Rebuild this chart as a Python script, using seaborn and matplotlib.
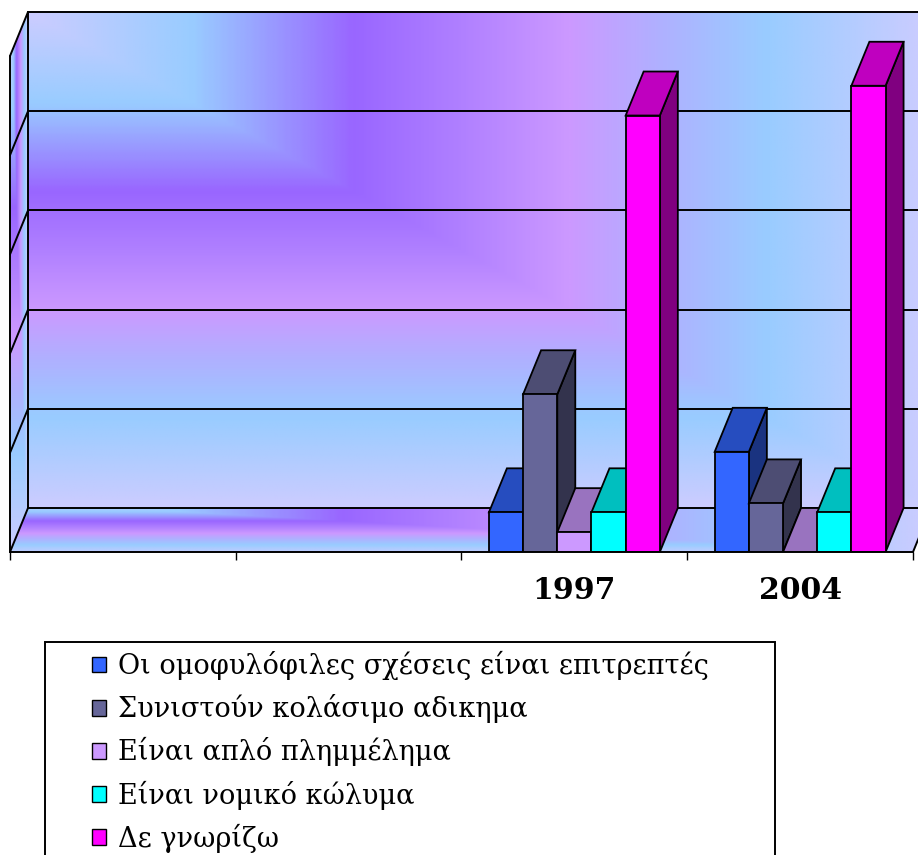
import numpy as np
import pandas as pd
import matplotlib
matplotlib.use("Agg")
import matplotlib.pyplot as plt
import seaborn as sns
from matplotlib.patches import Polygon, Rectangle, Patch
from matplotlib.colors import LinearSegmentedColormap

sns.set_theme(style="white")
plt.rcParams["font.family"] = ["DejaVu Serif"]
plt.rcParams["text.color"] = "black"
plt.rcParams["xtick.color"] = "black"

# ---------------------------------------------------------------------------
# data (gridlines every 10 units)
# ---------------------------------------------------------------------------
answers = [
    "Οι ομοφυλόφιλες σχέσεις είναι επιτρεπτές",
    "Συνιστούν κολάσιμο αδικημα",
    "Είναι απλό πλημμέλημα",
    "Είναι νομικό κώλυμα",
    "Δε γνωρίζω",
]
years = ["1997", "2004"]
slot_order = ["slot1", "slot2", "1997", "2004"]   # first two slots are empty
tick_labels = ["", "", "1997", "2004"]
values_1997 = [4.0, 15.9, 2.0, 4.0, 44.0]
values_2004 = [10.1, 4.9, 0.0, 4.0, 47.0]
gridlines = [0, 10, 20, 30, 40, 50]

colors = ["#3366ff", "#666699", "#cc99ff", "#00ffff", "#ff00ff"]

df = pd.DataFrame({
    "year": np.repeat(years, len(answers)),
    "answer": answers * len(years),
    "value": values_1997 + values_2004,
})

# wall fill: Excel-like "from corner" gradient
wall_cmap = LinearSegmentedColormap.from_list("wall", [
    (0.00, "#ccccff"), (0.18, "#99ccff"), (0.36, "#9966ff"), (0.48, "#b080ff"),
    (0.60, "#cc99ff"), (0.70, "#b0b0ff"), (0.82, "#99ccff"), (1.00, "#ccccff"),
])


def corner_field(nx, ny, v0=0.0, v1=1.0):
    u = np.linspace(0, 1, nx)
    v = np.linspace(v0, v1, ny)
    return np.maximum(u[None, :], v[:, None])


# ---------------------------------------------------------------------------
# figure / axes in pixel terms
# ---------------------------------------------------------------------------
W, H = 918, 855
X0, FLOOR = 10, 552          # px of the front floor corner
CAT_PX, UNIT_PX = 225.75, 9.92
DX, DY = 18 / CAT_PX, 44 / UNIT_PX   # depth offset in data units
LW = 1.4

fig = plt.figure(figsize=(W / 100, H / 100), dpi=100)
ax = fig.add_axes([X0 / W, (H - FLOOR) / H, (W - X0) / W, FLOOR / H])

sns.barplot(data=df, x="year", y="value", hue="answer", order=slot_order,
            hue_order=answers, palette=colors, width=0.757, saturation=1,
            edgecolor="black", linewidth=1.3, legend=False, ax=ax)
bars = sorted(ax.patches, key=lambda p: p.get_x())

# walls and floor
L, R = -0.5, 3.5
wall = ax.imshow(corner_field(400, 200), cmap=wall_cmap, vmin=0, vmax=1,
                 extent=(L + DX, R + DX, DY, 50 + DY), aspect="auto",
                 origin="upper", zorder=0, interpolation="bilinear")
floor = ax.imshow(corner_field(400, 60, 0.12, 0.95), cmap=wall_cmap, vmin=0, vmax=1,
                  extent=(L, R + DX, 0, DY), aspect="auto", origin="upper",
                  zorder=0, interpolation="bilinear")
floor.set_clip_path(Polygon([(L, 0), (L + DX, DY), (R + DX, DY), (R, 0)],
                            transform=ax.transData))
side_wall = ax.imshow(corner_field(30, 300), cmap=wall_cmap, vmin=0, vmax=1,
                      extent=(L, L + DX, 0, 50 + DY), aspect="auto", origin="upper",
                      zorder=0, interpolation="bilinear")
side_wall.set_clip_path(Polygon([(L, 0), (L, 50), (L + DX, 50 + DY), (L + DX, DY)],
                                transform=ax.transData))

for v in gridlines:
    ax.plot([L + DX, R + 2 * DX], [v + DY, v + DY], color="black", lw=LW, zorder=1)
    ax.plot([L, L + DX], [v, v + DY], color="black", lw=LW, zorder=1, clip_on=False)
ax.plot([L, L], [0, 50], color="black", lw=LW, zorder=1, clip_on=False)
ax.plot([L + DX, L + DX], [DY, 50 + DY], color="black", lw=LW, zorder=1)
ax.plot([R, R + DX], [0, DY], color="black", lw=LW, zorder=1)

# 3D faces for each bar, painted left to right
for i, bar in enumerate(bars):
    x0, w, h = bar.get_x(), bar.get_width(), bar.get_height()
    fc = np.array(bar.get_facecolor()[:3])
    z = 2 + i * 0.01
    side = Polygon([(x0 + w, 0), (x0 + w + DX, DY), (x0 + w + DX, h + DY), (x0 + w, h)],
                   facecolor=fc * 0.5, edgecolor="black", lw=1.3, zorder=z)
    top = Polygon([(x0, h), (x0 + DX, h + DY), (x0 + w + DX, h + DY), (x0 + w, h)],
                  facecolor=fc * 0.75, edgecolor="black", lw=1.3, zorder=z + 0.003)
    ax.add_patch(side)
    ax.add_patch(top)
    bar.set_zorder(z + 0.006)

ax.set_xlim(L, L + (W - X0) / CAT_PX)
ax.set_ylim(0, FLOOR / UNIT_PX)

# axes cosmetics
for s in ["left", "top", "right"]:
    ax.spines[s].set_visible(False)
ax.spines["bottom"].set_color("black")
ax.spines["bottom"].set_linewidth(LW)
ax.spines["bottom"].set_bounds(L, R)
ax.spines["bottom"].set_zorder(5)
ax.set_yticks([])
ax.set_xlabel("")
ax.set_ylabel("")
ax.set_xticks(range(len(tick_labels)))
ax.set_xticklabels(tick_labels, fontsize=21.5, fontweight="bold")
ax.tick_params(axis="x", which="major", length=0, pad=17)
ax.set_xticks([L + k for k in range(len(tick_labels) + 1)], minor=True)
ax.tick_params(axis="x", which="minor", bottom=True, length=5.8, width=1.0,
               color="black", direction="out")

# legend
handles = [Patch(facecolor=c, edgecolor="black", linewidth=1.0) for c in colors]
fig.legend(handles, answers, loc="upper left", bbox_to_anchor=(92 / W, 1 - 651 / H),
           frameon=False, borderpad=0, borderaxespad=0, fontsize=19.5,
           handlelength=0.52, handleheight=0.52, handletextpad=0.45,
           labelspacing=0.52)
fig.add_artist(Rectangle((45 / W, -20 / H), 730 / W, (H - 642 + 20) / H,
                         transform=fig.transFigure, fill=False,
                         edgecolor="black", lw=LW))

fig.savefig("out.png", dpi=100, facecolor="white")
